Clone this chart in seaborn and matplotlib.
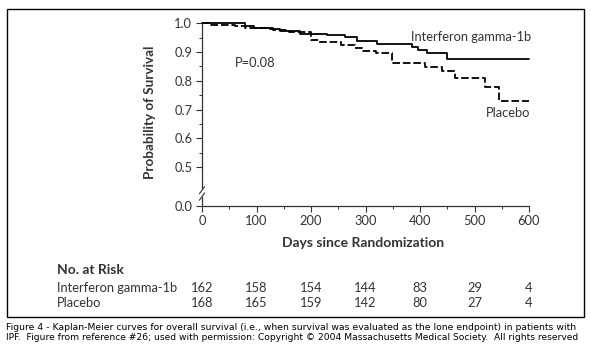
import matplotlib
matplotlib.use("Agg")
import matplotlib.pyplot as plt
import numpy as np
import pandas as pd
import seaborn as sns
from matplotlib.patches import Rectangle
from matplotlib.ticker import FixedLocator, MultipleLocator
import matplotlib.transforms as mtransforms

# Kaplan-Meier step curves
interferon_days = [0, 79, 95, 125, 143, 180, 230, 262, 284, 321, 385, 397, 412, 449, 600]
interferon_surv = [1.0, 0.99, 0.985, 0.98, 0.973, 0.963, 0.958, 0.953, 0.94, 0.928,
                   0.917, 0.906, 0.895, 0.876, 0.876]
placebo_days = [0, 15, 60, 79, 130, 160, 200, 215, 255, 280, 293, 320, 348, 409,
                440, 464, 519, 545, 600]
placebo_surv = [1.0, 0.995, 0.99, 0.985, 0.978, 0.97, 0.942, 0.935, 0.925, 0.914,
                0.905, 0.897, 0.862, 0.848, 0.833, 0.81, 0.778, 0.73, 0.73]

risk_days = [0, 100, 200, 300, 400, 500, 600]
risk_interferon = [162, 158, 154, 144, 83, 29, 4]
risk_placebo = [168, 165, 159, 142, 80, 27, 4]
group_names = ["Interferon gamma-1b", "Placebo"]

y_major = [0.0, 0.5, 0.6, 0.7, 0.8, 0.9, 1.0]
y_minor = [0.55, 0.65, 0.75, 0.85, 0.95]

caption = [
    "Figure 4 - Kaplan-Meier curves for overall survival (i.e., when survival was evaluated "
    "as the lone endpoint) in patients with",
    "IPF.  Figure from reference #26; used with permission: Copyright \u00a9 2004 "
    "Massachusetts Medical Society.  All rights reserved",
]

TEXT = "#333333"
W, H = 591, 357

# compress 0-0.5 so the axis can show a break
K = 0.269


def fwd(y):
    y = np.asarray(y, dtype=float)
    return np.where(y >= 0.5, y, 0.5 - (0.5 - y) * K)


def inv(u):
    u = np.asarray(u, dtype=float)
    return np.where(u >= 0.5, u, 0.5 - (0.5 - u) / K)


def main() -> None:
    sns.set_theme(style="white")
    plt.rcParams["font.family"] = ["Lato", "DejaVu Sans"]

    km = pd.concat(
        [
            pd.DataFrame({"day": interferon_days, "surv": interferon_surv, "group": group_names[0]}),
            pd.DataFrame({"day": placebo_days, "surv": placebo_surv, "group": group_names[1]}),
        ],
        ignore_index=True,
    )

    fig = plt.figure(figsize=(W / 100, H / 100), dpi=100)
    ax = fig.add_axes([202 / W, 1 - 205.7 / H, 327 / W, 182.4 / H])

    sns.lineplot(
        data=km, x="day", y="surv", hue="group", style="group",
        palette={g: "black" for g in group_names},
        dashes={group_names[0]: "", group_names[1]: (4.2, 1.6)},
        estimator=None, sort=False, drawstyle="steps-post",
        linewidth=1.3, legend=False, ax=ax, clip_on=False,
    )

    ax.set_yscale("function", functions=(fwd, inv))
    ax.set_xlim(0, 600)
    ax.set_ylim(0, 1.0)
    ax.xaxis.set_major_locator(MultipleLocator(100))
    ax.xaxis.set_minor_locator(MultipleLocator(50))
    ax.yaxis.set_major_locator(FixedLocator(y_major))
    ax.yaxis.set_minor_locator(FixedLocator(y_minor))
    ax.yaxis.set_major_formatter(lambda v, p: f"{v:.1f}")
    ax.xaxis.set_major_formatter(lambda v, p: f"{v:.0f}")

    for side in ["top", "right"]:
        ax.spines[side].set_visible(False)
    for side in ["left", "bottom"]:
        ax.spines[side].set_color(TEXT)
        ax.spines[side].set_linewidth(0.9)
    ax.tick_params(which="major", direction="out", length=4, width=0.8, color=TEXT,
                   labelsize=9.3, labelcolor=TEXT, pad=3, left=True, bottom=True)
    ax.tick_params(which="minor", direction="out", length=2.5, width=0.7, color=TEXT,
                   left=True, bottom=True)

    ax.set_xlabel("Days since Randomization", fontsize=10, fontweight="bold", color=TEXT)
    ax.xaxis.set_label_coords(0.492, -0.205)
    ax.xaxis.label.set_va("center")
    ax.set_ylabel("Probability of Survival", fontsize=9.7, fontweight="bold", color=TEXT)
    ax.yaxis.set_label_coords(-0.159, 0.514)
    ax.yaxis.label.set_va("center")

    # axis break marks
    gap = Rectangle((-0.02, 0.05), 0.04, 0.035, transform=ax.transAxes,
                    facecolor="white", edgecolor="none", clip_on=False, zorder=5)
    ax.add_patch(gap)
    for yb in (0.05, 0.085):
        ax.plot([-0.008, 0.008], [yb - 0.02, yb + 0.02], transform=ax.transAxes,
                color=TEXT, lw=0.8, clip_on=False, zorder=6)

    ax.text(60, 0.862, "P=0.08", fontsize=9.3, color=TEXT, va="center", ha="left")
    ax.text(603, 0.952, group_names[0], fontsize=9.3, color=TEXT, va="center", ha="right")
    ax.text(603, 0.688, group_names[1], fontsize=9.3, color=TEXT, va="center", ha="right")

    # number at risk table
    risk_tr = mtransforms.blended_transform_factory(ax.transData, fig.transFigure)
    fig.text(57 / W, 1 - 270 / H, "No. at Risk", fontsize=10, fontweight="bold",
             color=TEXT, va="center", ha="left")
    for row, (name, counts) in enumerate(zip(group_names, [risk_interferon, risk_placebo])):
        ypix = 288 + row * 15
        fig.text(57 / W, 1 - ypix / H, name, fontsize=9.3, color=TEXT, va="center", ha="left")
        for d, n in zip(risk_days, counts):
            ax.text(d, 1 - ypix / H, str(n), transform=risk_tr, fontsize=9.3,
                    color=TEXT, va="center", ha="center")

    frame = Rectangle((7 / W, 1 - 317 / H), 577 / W, 308 / H, transform=fig.transFigure,
                      facecolor="none", edgecolor="black", linewidth=1.0)
    fig.patches.append(frame)

    # caption lines, each shrunk to span the frame width
    renderer = fig.canvas.get_renderer()
    for i, line in enumerate(caption):
        t = fig.text(6 / W, 1 - (327 + i * 11) / H, line, fontsize=8, color="black",
                     family=["DejaVu Sans"], va="center", ha="left")
        width = t.get_window_extent(renderer).width
        t.set_fontsize(8 * 574 / width)

    fig.savefig("out.png", dpi=100)
    plt.close(fig)


if __name__ == "__main__":
    main()
